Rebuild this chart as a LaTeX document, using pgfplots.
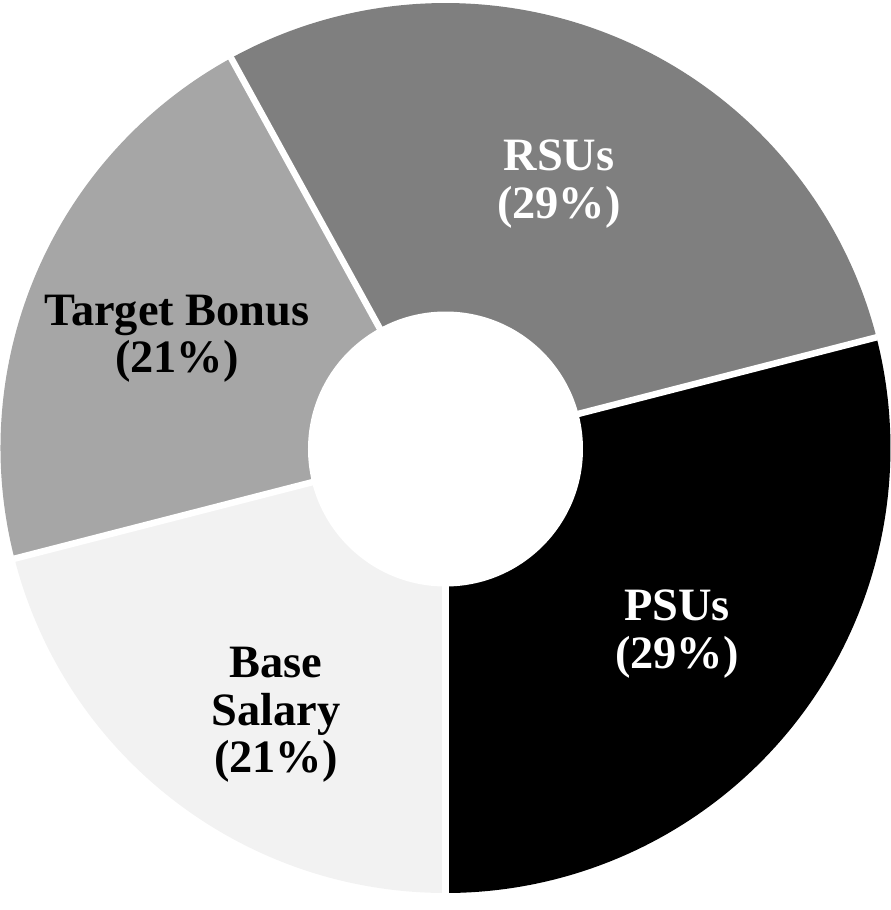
\documentclass[border=0pt]{standalone}
\usepackage{pgfplots}
\pgfplotsset{compat=1.18}
\usepackage{fontspec}
\setmainfont{Liberation Serif}
\definecolor{cPSU}{HTML}{000000}
\definecolor{cRSU}{HTML}{7F7F7F}
\definecolor{cTB}{HTML}{A6A6A6}
\definecolor{cBS}{HTML}{F2F2F2}
\begin{document}
\begin{tikzpicture}
\begin{axis}[x=1cm,y=1cm,xmin=0,xmax=8.91,ymin=0,ymax=9.10,hide axis,clip=false]
\def\cx{4.455}\def\cy{4.62}
\xdef\startang{-90}
\foreach \v/\col/\tcol/\lx/\ly/\lab in {
  29/cPSU/white/6.77/2.76/{PSUs\\(29\%)},
  29/cRSU/white/5.59/7.26/{RSUs\\(29\%)},
  21/cTB/black/1.77/5.71/{Target Bonus\\(21\%)},
  21/cBS/black/2.76/1.95/{Base\\Salary\\(21\%)}}{
  \pgfmathsetmacro\endang{\startang+3.6*\v}
  \edef\tmp{\noexpand\fill[\col] (axis cs:\cx,\cy) -- ++(\startang:4.45cm) arc[start angle=\startang,end angle=\endang,radius=4.45cm] -- cycle;
   \noexpand\node[text=\tcol,align=center,inner sep=0pt,font=\noexpand\bfseries\noexpand\fontsize{13.2}{13.5}\noexpand\selectfont] at (axis cs:\lx,\ly) {\unexpanded\expandafter{\lab}};}
  \tmp
  \xdef\startang{\endang}
}
\foreach \ang in {-90,14.4,118.8,194.4}{
  \edef\tmp{\noexpand\draw[white,line width=0.065cm] (axis cs:\cx,\cy) -- ++(\ang:4.455cm);}
  \tmp
}
\fill[white] (axis cs:4.455,4.61) circle[radius=1.375cm];
\coordinate (bl) at (axis cs:0,0);
\coordinate (tr) at (axis cs:8.91,9.10);
\end{axis}
\pgfresetboundingbox
\useasboundingbox (bl) rectangle (tr);
\end{tikzpicture}
\end{document}
